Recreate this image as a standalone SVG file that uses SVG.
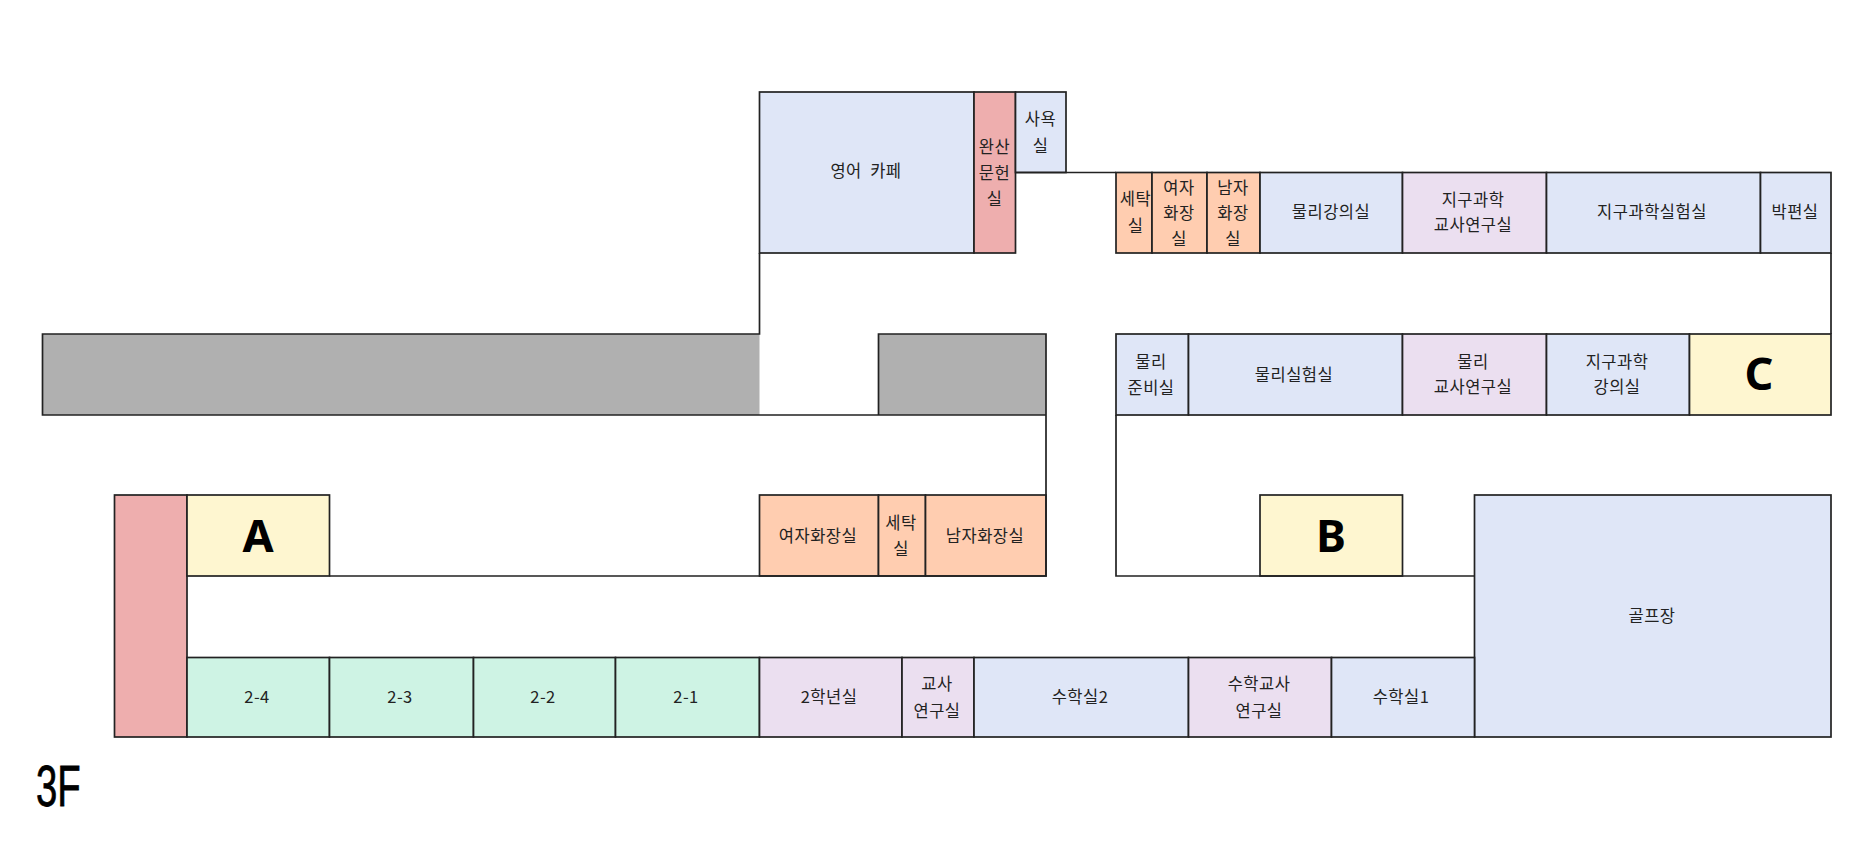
<svg xmlns="http://www.w3.org/2000/svg" width="1851" height="854" viewBox="0 0 1851 854">
<style>
rect{stroke:#222;stroke-width:1.7}
.b{fill:#dfe6f7}.p{fill:#ebdff0}.o{fill:#ffcdb0}.r{fill:#eeaeae}.y{fill:#fef6d0}.m{fill:#cef3e4}
.g{fill:#b0b0b0;stroke:none}
.w{fill:none;stroke:#222;stroke-width:1.7}
text{font-family:"Noto Sans CJK KR","Noto Sans",sans-serif;font-size:16.5px;letter-spacing:.5px;fill:#222;text-anchor:middle;white-space:pre}
.big{font-family:"Noto Sans",sans-serif;font-size:45px;letter-spacing:0;font-weight:700;fill:#000}
.fl{font-family:"Liberation Sans",sans-serif;font-size:58px;letter-spacing:0;fill:#000;stroke:#000;stroke-width:.8px;text-anchor:start}
</style>
<rect id="bg" x="0" y="0" width="1851" height="854" fill="#fff" style="stroke:none"/>
<g id="grey-blocks">
<rect class="g" x="42.500" y="334" width="717" height="81"/>
<rect class="g" x="878.500" y="334" width="167.500" height="81"/>
</g>
<g id="rooms">
<g id="english-cafe"><rect class="b" x="759.500" y="92" width="214.500" height="161"/><text x="866" y="176.500">영어  카페</text></g>
<g id="archive"><rect class="r" x="974" y="92" width="41.500" height="161"/><text x="994.500" y="152.500">완산</text><text x="994.500" y="178.500">문헌</text><text x="994.500" y="204.500">실</text></g>
<g id="shower"><rect class="b" x="1015.500" y="92" width="50.500" height="80.500"/><text x="1040.500" y="124.500">사욕</text><text x="1040.500" y="151.500">실</text></g>
<g id="laundry-n"><rect class="o" x="1116" y="172.500" width="36" height="80.500"/><text x="1135.500" y="204.500">세탁</text><text x="1135.500" y="231.500">실</text></g>
<g id="wc-f-n"><rect class="o" x="1152" y="172.500" width="55" height="80.500"/><text x="1179" y="193.500">여자</text><text x="1179" y="218.500">화장</text><text x="1179" y="244.500">실</text></g>
<g id="wc-m-n"><rect class="o" x="1207" y="172.500" width="53" height="80.500"/><text x="1233" y="193.500">남자</text><text x="1233" y="218.500">화장</text><text x="1233" y="244.500">실</text></g>
<g id="physics-lecture"><rect class="b" x="1260" y="172.500" width="142.500" height="80.500"/><text x="1331" y="217.500">물리강의실</text></g>
<g id="earth-office"><rect class="p" x="1402.500" y="172.500" width="144" height="80.500"/><text x="1473" y="205.500">지구과학</text><text x="1473" y="230.500">교사연구실</text></g>
<g id="earth-lab"><rect class="b" x="1546.500" y="172.500" width="214" height="80.500"/><text x="1652" y="217.500">지구과학실험실</text></g>
<g id="thin-section"><rect class="b" x="1760.500" y="172.500" width="70.500" height="80.500"/><text x="1795" y="217.500">박편실</text></g>
<g id="physics-prep"><rect class="b" x="1116" y="334" width="72.500" height="81"/><text x="1151" y="367.500">물리</text><text x="1151" y="393.500">준비실</text></g>
<g id="physics-lab"><rect class="b" x="1188.500" y="334" width="214" height="81"/><text x="1294" y="380.500">물리실험실</text></g>
<g id="physics-office"><rect class="p" x="1402.500" y="334" width="144" height="81"/><text x="1473" y="367.500">물리</text><text x="1473" y="392.500">교사연구실</text></g>
<g id="earth-lecture"><rect class="b" x="1546.500" y="334" width="143" height="81"/><text x="1617" y="367.500">지구과학</text><text x="1617" y="392.500">강의실</text></g>
<g id="stair-c"><rect class="y" x="1689.500" y="334" width="141.500" height="81"/><text class="big" x="1759" y="390">C</text></g>
<g id="red-block"><rect class="r" x="114.500" y="495" width="72.500" height="242"/></g>
<g id="stair-a"><rect class="y" x="187" y="495" width="142.500" height="81"/><text class="big" x="258" y="552">A</text></g>
<g id="wc-f-w"><rect class="o" x="759.500" y="495" width="119" height="81"/><text x="818" y="541.500">여자화장실</text></g>
<g id="laundry-w"><rect class="o" x="878.500" y="495" width="47" height="81"/><text x="901" y="528.500">세탁</text><text x="901" y="554.500">실</text></g>
<g id="wc-m-w"><rect class="o" x="925.500" y="495" width="120.500" height="81"/><text x="985" y="541.500">남자화장실</text></g>
<g id="stair-b"><rect class="y" x="1260" y="495" width="142.500" height="81"/><text class="big" x="1331" y="552">B</text></g>
<g id="golf"><rect class="b" x="1474.500" y="495" width="356.500" height="242"/><text x="1652" y="621.500">골프장</text></g>
<g id="class-2-4"><rect class="m" x="187" y="657.500" width="142.500" height="79.500"/><text x="257" y="702.500">2-4</text></g>
<g id="class-2-3"><rect class="m" x="329.500" y="657.500" width="144" height="79.500"/><text x="400" y="702.500">2-3</text></g>
<g id="class-2-2"><rect class="m" x="473.500" y="657.500" width="142" height="79.500"/><text x="543" y="702.500">2-2</text></g>
<g id="class-2-1"><rect class="m" x="615.500" y="657.500" width="144" height="79.500"/><text x="686" y="702.500">2-1</text></g>
<g id="grade-office"><rect class="p" x="759.500" y="657.500" width="142.500" height="79.500"/><text x="829" y="702.500">2학년실</text></g>
<g id="teacher-office"><rect class="p" x="902" y="657.500" width="72" height="79.500"/><text x="937" y="689.500">교사</text><text x="937" y="716.500">연구실</text></g>
<g id="math-2"><rect class="b" x="974" y="657.500" width="214.500" height="79.500"/><text x="1080" y="702.500">수학실2</text></g>
<g id="math-office"><rect class="p" x="1188.500" y="657.500" width="143" height="79.500"/><text x="1259" y="689.500">수학교사</text><text x="1259" y="716.500">연구실</text></g>
<g id="math-1"><rect class="b" x="1331.500" y="657.500" width="143" height="79.500"/><text x="1401" y="702.500">수학실1</text></g>
</g>
<g id="connectors">
<path class="w" d="M759.500 253V334H42.500V415H1046V334H878.500V415M1046 415V576H329.500"/>
<path class="w" d="M1015.500 172.500H1116M1116 415V576H1474.500M1831 253V334"/>
</g>
<text class="fl" transform="translate(36 806) scale(0.66 1)" x="0" y="0">3F</text>
</svg>
